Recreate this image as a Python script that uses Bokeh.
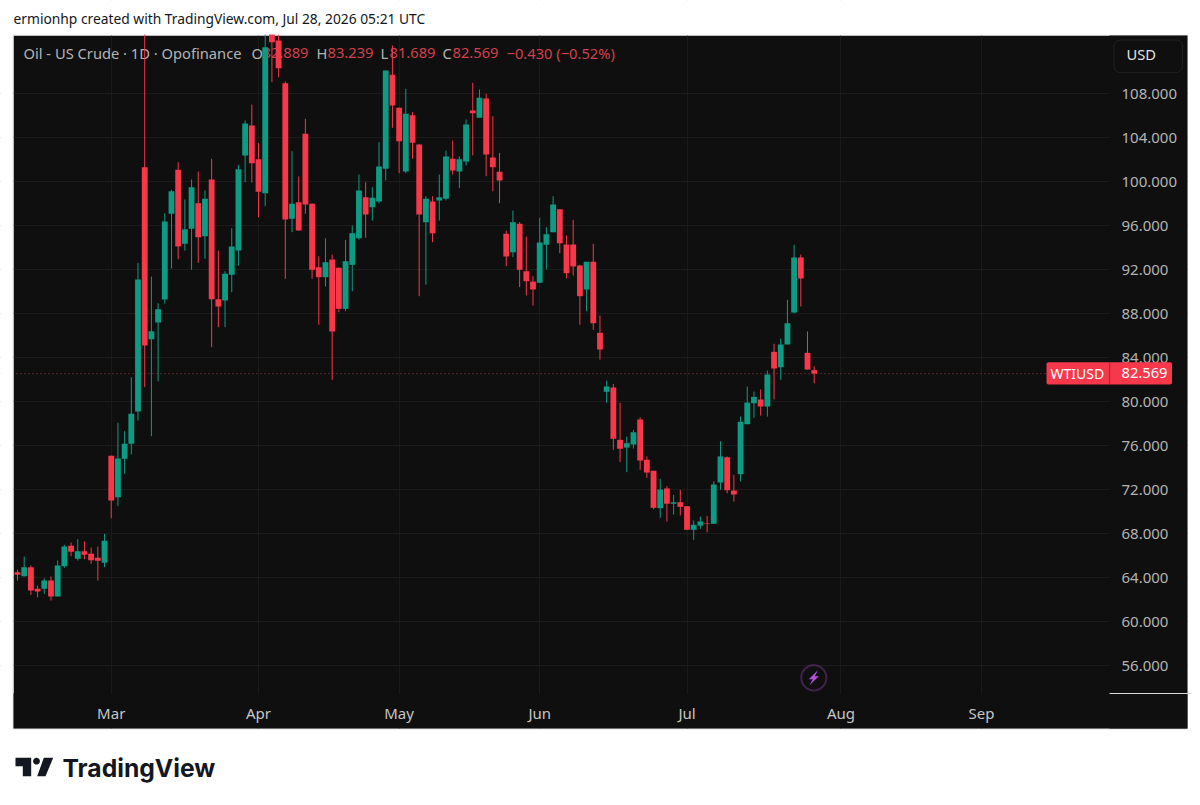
from bokeh.plotting import figure
from bokeh.models import (ColumnDataSource, Range1d, FixedTicker, NumeralTickFormatter, Label,
                          BoxAnnotation, PolyAnnotation, Span)
from bokeh.embed import file_html
from bokeh.resources import INLINE
import numpy as np

opens = [64.52,64.15,64.97,63.01,63.01,63.76,62.31,65.06,66.92,65.74,66.43,66.19,65.83,65.37,75.10,71.34,74.83,76.19,79.13,101.34,
         85.70,87.22,89.31,97.10,101.10,94.37,95.74,98.06,95.06,100.22,89.34,89.22,91.55,93.76,102.40,105.13,102.06,98.97,113.76,112.85,
         108.97,96.64,98.15,104.37,98.01,92.24,91.34,92.94,92.19,88.46,92.46,94.88,98.61,97.70,98.22,101.19,109.74,106.74,100.94,106.06,
         103.40,96.34,98.22,98.31,98.46,102.10,100.94,101.85,106.49,105.83,107.58,102.22,100.92,95.28,93.61,96.19,91.88,90.94,90.83,94.28,
         95.43,97.52,94.31,94.31,92.40,90.22,92.74,86.28,80.92,81.31,76.55,75.85,76.13,78.40,74.74,73.74,70.34,72.13,70.74,70.88,
         70.52,68.37,68.76,68.97,68.92,72.67,74.97,71.94,73.43,77.97,79.88,80.22,79.58,84.55,83.15,85.22,88.13,93.13,84.46,82.889]
highs = [64.74,65.94,65.13,63.31,63.97,64.13,65.58,67.01,67.22,67.52,67.31,66.76,66.85,68.01,75.13,78.10,77.34,82.24,92.64,115.0,
         91.40,88.97,97.15,99.28,101.79,98.40,100.22,100.94,99.22,102.10,93.76,91.88,95.79,101.55,105.58,107.04,103.52,113.76,115.0,113.40,
         109.13,102.79,100.49,105.74,98.04,93.24,94.88,93.40,92.22,94.74,96.04,100.67,99.97,99.52,103.61,110.13,112.40,106.76,108.46,106.34,
         103.46,98.70,98.70,100.67,102.85,103.76,102.31,105.67,109.01,108.40,108.01,105.97,102.64,95.58,97.40,96.34,95.04,91.43,96.74,95.88,
         98.70,97.52,95.13,96.55,92.46,92.74,94.37,87.85,81.94,81.64,79.92,76.85,77.46,78.61,75.04,73.74,73.01,72.34,71.55,72.01,
         70.52,69.22,69.58,69.64,72.79,76.43,75.04,73.37,78.67,81.40,80.94,81.13,82.85,85.28,85.74,89.28,94.28,93.40,86.40,83.239]
lows = [63.76,64.13,62.46,62.24,62.55,61.94,62.31,64.92,65.97,65.58,65.70,65.28,63.76,64.97,69.43,70.52,73.46,75.22,78.31,81.34,
        76.88,81.88,88.92,92.13,92.97,93.76,92.01,92.64,93.01,84.97,86.79,86.79,89.97,92.40,99.97,99.94,96.79,97.79,109.06,109.52,
        91.19,95.43,95.58,97.10,91.19,87.01,90.49,82.01,88.15,88.24,90.06,94.74,94.92,96.49,98.06,100.13,104.92,100.79,100.79,102.10,
        89.61,90.67,94.52,96.49,98.31,100.67,99.43,101.49,102.40,105.83,100.52,99.15,98.06,92.34,93.15,90.43,89.67,88.76,90.83,92.04,
        95.43,93.52,91.24,91.49,87.01,88.24,86.55,83.85,79.92,75.64,74.52,73.61,75.76,73.83,73.10,70.24,69.46,69.13,69.76,69.67,
        68.37,67.46,68.46,68.15,68.92,72.01,71.70,70.94,72.76,77.97,78.55,78.76,78.67,80.22,82.01,85.22,88.06,88.67,82.94,81.689]
closes = [64.28,64.97,62.85,62.76,63.76,62.31,65.13,66.85,66.37,66.43,66.10,65.61,65.55,67.37,71.04,74.85,76.19,78.92,91.13,85.13,
          86.43,88.43,96.40,99.15,94.13,95.70,99.52,94.97,98.46,89.34,88.67,91.64,94.13,101.15,105.31,101.70,99.10,112.24,112.70,110.34,
          96.58,98.01,95.58,97.94,92.01,91.34,92.70,86.40,88.46,92.79,95.34,99.22,97.04,98.55,101.40,110.13,106.94,103.70,106.19,103.55,
          97.04,98.46,95.34,98.61,102.31,101.04,102.06,105.22,106.24,107.64,102.49,101.34,100.13,93.22,96.34,92.01,90.97,90.22,94.49,95.24,
          97.94,94.43,91.70,92.31,89.61,92.74,87.15,84.76,81.40,76.64,75.74,76.24,77.24,74.67,73.58,70.37,72.04,70.74,70.88,70.46,
          68.37,68.83,69.13,68.92,72.49,75.04,71.97,71.58,78.19,79.94,80.46,79.58,82.49,83.04,85.22,87.15,93.13,91.22,82.94,82.569]

y_ticks = [56, 60, 64, 68, 72, 76, 80, 84, 88, 92, 96, 100, 104, 108]
month_pos = [14, 36, 57, 78, 100, 123, 144]
month_names = ["Mar", "Apr", "May", "Jun", "Jul", "Aug", "Sep"]
last_price = 82.569

UP, DOWN = "#0d9c83", "#f7374a"
BG, GRID = "#0f0f0f", "#1b1b1b"
TXT, FONT = "#b4b4b4", "Noto Sans"
INK, WHITE = "#131722", "#ffffff"
W, H = 1196, 801

X0, PXB = 17.0, 6.695
Y108, PYU = 93.4, 11.0
px2x = lambda px: (px - X0) / PXB
py2y = lambda py: 108 - (py - Y108) / PYU

p = figure(frame_width=W, frame_height=H, output_backend="svg", toolbar_location=None,
           x_range=Range1d(px2x(0), px2x(W)), y_range=Range1d(py2y(H), py2y(0)),
           x_axis_location="below", y_axis_location="right",
           min_border_left=0, min_border_top=0, min_border_right=0, min_border_bottom=0,
           background_fill_color=WHITE, border_fill_color=WHITE, outline_line_color=None)

def box(l, r, t, b, **kw):
    kw.setdefault("fill_alpha", 1)
    kw.setdefault("line_color", None)
    return BoxAnnotation(left=l, right=r, top=t, bottom=b, left_units="canvas", right_units="canvas",
                         top_units="canvas", bottom_units="canvas", **kw)

def poly(xs, ys, **kw):
    return PolyAnnotation(xs=list(xs), ys=list(ys), xs_units="canvas", ys_units="canvas", **kw)

p.add_layout(box(13, 1187, 35, 728, fill_color=BG, level="image"))

for ax, tk in ((p.yaxis[0], y_ticks), (p.xaxis[0], month_pos)):
    ax.ticker = FixedTicker(ticks=tk)
    ax.axis_line_color = None
    ax.major_tick_line_color = None
    ax.minor_tick_line_color = None
    ax.major_label_text_font = FONT
    ax.major_label_text_font_size = "15px"
p.yaxis[0].major_label_text_color = TXT
p.xaxis[0].major_label_text_color = "#c6c6c6"
p.yaxis[0].formatter = NumeralTickFormatter(format="0.000")
p.yaxis[0].major_label_standoff = 1115 - W
p.xaxis[0].major_label_standoff = 696 - H
p.xaxis[0].major_label_overrides = dict(zip(month_pos, month_names))
p.xgrid.ticker = FixedTicker(ticks=month_pos)
p.ygrid.ticker = FixedTicker(ticks=y_ticks)
p.xgrid.grid_line_color = GRID
p.ygrid.grid_line_color = GRID

p.add_layout(Span(location=last_price, dimension="width", line_color="#9a3d46", line_width=1,
                  line_dash="1 3", level="underlay"))

# grid and price line belong to the price pane only: mask them everywhere else
for l, r, t, b, c in ((-10, W + 10, -10, 35, WHITE), (-10, W + 10, 728, H + 10, WHITE),
                      (-10, 13, -10, H + 10, WHITE), (1187, W + 10, -10, H + 10, WHITE),
                      (1109, 1187, 35, 728, BG), (13, 1187, 693, 728, BG)):
    p.add_layout(box(l, r, t, b, fill_color=c, level="underlay"))
p.add_layout(box(12.5, 1187, 34.5, 728.5, fill_alpha=0, line_color="#a3a3a3", line_width=1, level="underlay"))

def label(px, py, text, color=TXT, size="14.7px", style="normal", font=FONT, level="underlay", align="left"):
    p.add_layout(Label(x=px, y=py, x_units="canvas", y_units="canvas", text=text, text_color=color,
                       text_font=font, text_font_size=size, text_font_style=style,
                       text_baseline="middle", text_align=align, level=level))

RED_TXT = "#d2404c"
label(23, 52.5, "Oil - US Crude · 1D · Opofinance")
for lx, l, vx, v in ((251, "O", 262, "82.889"), (316, "H", 327, "83.239"),
                     (380, "L", 389, "81.689"), (442, "C", 452, "82.569")):
    label(lx, 52.5, l)
    label(vx, 52.5, v, RED_TXT)
label(506, 52.5, "−0.430 (−0.52%)", RED_TXT)

idx = list(range(len(opens)))
src = ColumnDataSource(dict(x=idx, o=opens, h=highs, l=lows, c=closes,
                            color=[UP if c >= o else DOWN for o, c in zip(opens, closes)]))
p.segment("x", "h", "x", "l", source=src, line_color="color", line_width=1)
p.vbar("x", 0.87, "o", "c", source=src, fill_color="color", line_color=None)
# wicks stay inside the dark pane
p.add_layout(box(-10, W + 10, -10, 34, fill_color=WHITE, level="guide"))

label(13, 17.5, "ermionhp created with TradingView.com, Jul 28, 2026 05:21 UTC", INK, "13.8px", level="annotation")
label(62, 767, "TradingView", INK, "24.7px", "bold", "Inter", level="annotation")
p.add_layout(poly((15, 30.7, 30.7, 22.3, 22.3, 15), (757.3, 757.3, 775.7, 775.7, 765.7, 765.7),
                  fill_color=INK, fill_alpha=1, line_color=None))
p.add_layout(poly((43.3, 52.7, 45, 36.7), (757.3, 757.3, 775.7, 775.7),
                  fill_color=INK, fill_alpha=1, line_color=None))
theta = np.linspace(0, 2 * np.pi, 40, endpoint=False)
p.add_layout(poly(36 + 3.4 * np.cos(theta), 760.7 + 3.4 * np.sin(theta),
                  fill_color=INK, fill_alpha=1, line_color=None))

p.add_layout(box(1113.5, 1182, 39.5, 72, fill_color=BG, line_color="#484848", line_width=1, border_radius=6))
label(1126, 53.5, "USD", "#e2e2e2", level="annotation")

p.add_layout(box(1046, 1171.5, 361.7, 384, fill_color=DOWN, border_radius=2))
p.add_layout(box(1108.7, 1109.7, 361.7, 384, fill_color="#a02733"))
label(1050, 372.5, "WTIUSD", WHITE, "14px", level="annotation")
label(1121, 372.5, "82.569", WHITE, level="annotation")

p.add_layout(box(1109, 1191, 692.6, 693.6, fill_color="#d8d8d8"))

p.add_layout(poly(813.3 + 12.6 * np.cos(theta), 677.3 + 12.6 * np.sin(theta),
                  fill_alpha=0, line_color="#b650d8", line_width=2))
p.add_layout(poly((817.5, 808.3, 812.3, 808.8, 818.3, 814.3), (669.5, 678.8, 678.8, 685, 675.8, 675.8),
                  fill_color="#b650d8", fill_alpha=1, line_color=None))

open("out.html", "w").write(file_html(p, INLINE))
